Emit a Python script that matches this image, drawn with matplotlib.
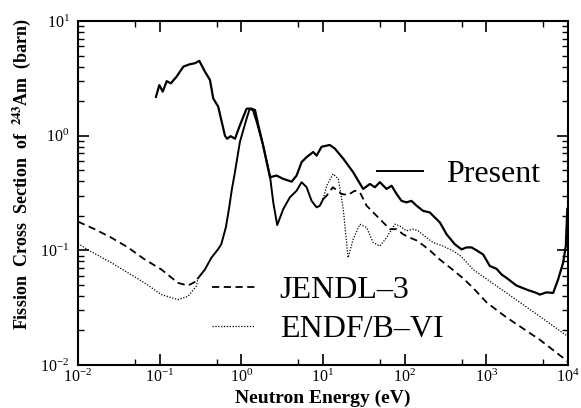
import matplotlib
matplotlib.use('Agg')
import matplotlib.pyplot as plt
from matplotlib.lines import Line2D
from matplotlib.ticker import LogLocator, NullFormatter
import numpy as np

# Present evaluation (solid)
present_e = [0.090, 0.099, 0.109, 0.122, 0.137, 0.161, 0.195, 0.235, 0.270, 0.306,
             0.358, 0.413, 0.453, 0.521, 0.630, 0.671, 0.740, 0.836, 0.96, 1.16,
             1.34, 1.47, 1.60, 1.85, 2.24, 2.70, 3.26, 4.13, 4.75, 5.47,
             6.30, 7.59, 8.35, 9.6, 12.1, 14.0, 17.7, 23.4, 31.0, 37.5,
             43.2, 49.7, 60, 69.2, 79.6, 91.6, 105, 121, 140, 168,
             203, 270, 326, 411, 497, 571, 659, 759, 914, 1104,
             1333, 1535, 1767, 2342, 3104, 4115, 4519, 5458, 6577, 7568,
             8710, 9400, 9800]
present_xs = [2.18, 2.76, 2.42, 2.99, 2.86, 3.27, 4.0, 4.2, 4.28, 4.49,
              3.62, 3.06, 2.11, 1.79, 1.0, 0.94, 0.99, 0.94, 1.23, 1.72,
              1.72, 1.67, 1.27, 0.82, 0.434, 0.449, 0.42, 0.397, 0.449, 0.588,
              0.650, 0.72, 0.67, 0.80, 0.83, 0.77, 0.63, 0.48, 0.343, 0.379,
              0.355, 0.393, 0.343, 0.366, 0.31, 0.27, 0.262, 0.27, 0.245, 0.221,
              0.214, 0.175, 0.138, 0.113, 0.102, 0.106, 0.106, 0.100, 0.092, 0.073,
              0.069, 0.0616, 0.0575, 0.0493, 0.0455, 0.0425, 0.0411, 0.043, 0.0425, 0.0557,
              0.078, 0.109, 0.23]

# JENDL-3 (dashed)
jendl_low_e = [0.01, 0.016, 0.0256, 0.0409, 0.0655, 0.105, 0.168, 0.222, 0.281, 0.294]
jendl_low_xs = [0.178, 0.153, 0.129, 0.106, 0.0834, 0.068, 0.052, 0.0493, 0.0538, 0.057]
jendl_high_e = [10.05, 11.1, 13.2, 16.9, 20.3, 24.5, 28.3, 34.2, 45.3, 54.6,
                65.9, 79.6, 95.9, 116, 140, 168, 203, 270, 357, 520,
                689, 1014, 1767, 4519, 10000]
jendl_high_xs = [0.28, 0.30, 0.355, 0.31, 0.304, 0.331, 0.321, 0.245, 0.200, 0.175,
                 0.153, 0.153, 0.138, 0.129, 0.122, 0.111, 0.100, 0.083, 0.071, 0.057,
                 0.047, 0.035, 0.026, 0.0166, 0.0107]

# ENDF/B-VI (dotted)
endf_low_e = [0.01, 0.0132, 0.0256, 0.0655, 0.105, 0.168, 0.222, 0.281, 0.294]
endf_low_xs = [0.115, 0.101, 0.078, 0.052, 0.0411, 0.0372, 0.0397, 0.0486, 0.057]
endf_high_e = [10.05, 11.1, 13.3, 15.4, 17.7, 20.3, 23.4, 28.3, 34.2, 41.1,
               49.7, 60, 75.9, 87.3, 105, 127, 146, 185, 223, 296,
               393, 488, 689, 1767, 4519, 10000]
endf_high_xs = [0.28, 0.367, 0.464, 0.42, 0.229, 0.0863, 0.125, 0.169, 0.158, 0.117,
                0.109, 0.129, 0.169, 0.163, 0.148, 0.153, 0.148, 0.129, 0.117, 0.109,
                0.0986, 0.089, 0.068, 0.0425, 0.0265, 0.0177]

# resolved resonance region, common to JENDL-3 and ENDF/B-VI
reson_e = [0.294, 0.358, 0.429, 0.518, 0.568, 0.647, 0.705, 0.767, 0.824, 0.96,
           1.16, 1.27, 1.39, 1.54, 1.85, 2.24, 2.46, 2.75, 3.26, 3.93,
           4.75, 5.47, 6.30, 7.25, 8.35, 9.16, 10.05]
reson_xs = [0.057, 0.068, 0.086, 0.102, 0.113, 0.159, 0.229, 0.343, 0.455, 0.88,
            1.41, 1.72, 1.66, 1.32, 0.82, 0.449, 0.262, 0.166, 0.229, 0.29,
            0.331, 0.393, 0.355, 0.27, 0.237, 0.245, 0.28]

plt.rcParams['font.family'] = ['Liberation Serif', 'DejaVu Serif']
plt.rcParams['mathtext.fontset'] = 'stix'

W, H = 581, 408
fig = plt.figure(figsize=(W / 100, H / 100), dpi=100)
ax = fig.add_axes([78 / W, 1 - 365 / H, 490 / W, 344 / H])

ax.plot(present_e, present_xs, color='black', lw=1.6, solid_joinstyle='round')
ax.plot(jendl_low_e, jendl_low_xs, color='black', lw=1.3, dashes=(4, 2.5))
ax.plot(jendl_high_e, jendl_high_xs, color='black', lw=1.3, dashes=(4, 2.5))
ax.plot(endf_low_e, endf_low_xs, color='black', lw=0.9, dashes=(1, 1.3))
ax.plot(endf_high_e, endf_high_xs, color='black', lw=0.9, dashes=(1, 1.3))
ax.plot(reson_e, reson_xs, color='black', lw=1.4)

ax.set_xscale('log')
ax.set_yscale('log')
ax.set_xlim(1e-2, 1e4)
ax.set_ylim(1e-2, 1e1)

ax.xaxis.set_major_locator(LogLocator(base=10, numticks=10))
ax.xaxis.set_minor_locator(LogLocator(base=10, subs=[5], numticks=10))
ax.xaxis.set_minor_formatter(NullFormatter())
ax.yaxis.set_major_locator(LogLocator(base=10, numticks=10))
ax.yaxis.set_minor_locator(LogLocator(base=10, subs=np.arange(2, 10), numticks=10))
ax.yaxis.set_minor_formatter(NullFormatter())

ax.tick_params(which='both', direction='in', top=True, right=True)
ax.tick_params(which='major', length=8, width=1.2, labelsize=11.5)
ax.tick_params(axis='x', which='major', pad=3)
ax.tick_params(axis='y', which='major', pad=6)
ax.tick_params(which='minor', length=4, width=1.0)
for sp in ax.spines.values():
    sp.set_linewidth(1.5)

ax.set_xlabel('Neutron Energy (eV)', fontsize=14, fontweight='bold')
ax.xaxis.set_label_coords(0.5, -0.072)
ax.set_ylabel('Fission  Cross  Section  of  $^{\\mathbf{243}}$Am  (barn)',
              fontsize=13, fontweight='bold')
ax.yaxis.set_label_coords(-0.092, 0.555)

h_present = [Line2D([], [], color='black', lw=1.4)]
leg1 = ax.legend(h_present, ['Present'], loc='center left',
                 bbox_to_anchor=(0.610, 0.555), frameon=False, fontsize=23,
                 borderpad=0, borderaxespad=0, handlelength=1.45, handletextpad=0.7)
ax.add_artist(leg1)
h_eval = [Line2D([], [], color='black', lw=1.3, dashes=(4, 2.5)),
          Line2D([], [], color='black', lw=0.9, dashes=(1, 1.3))]
ax.legend(h_eval, ['JENDL–3', 'ENDF/B–VI'], loc='center left',
          bbox_to_anchor=(0.273, 0.160), frameon=False, fontsize=23,
          borderpad=0, borderaxespad=0, handlelength=1.35, handletextpad=0.78,
          labelspacing=0.32)

fig.savefig('out.png', dpi=100)
